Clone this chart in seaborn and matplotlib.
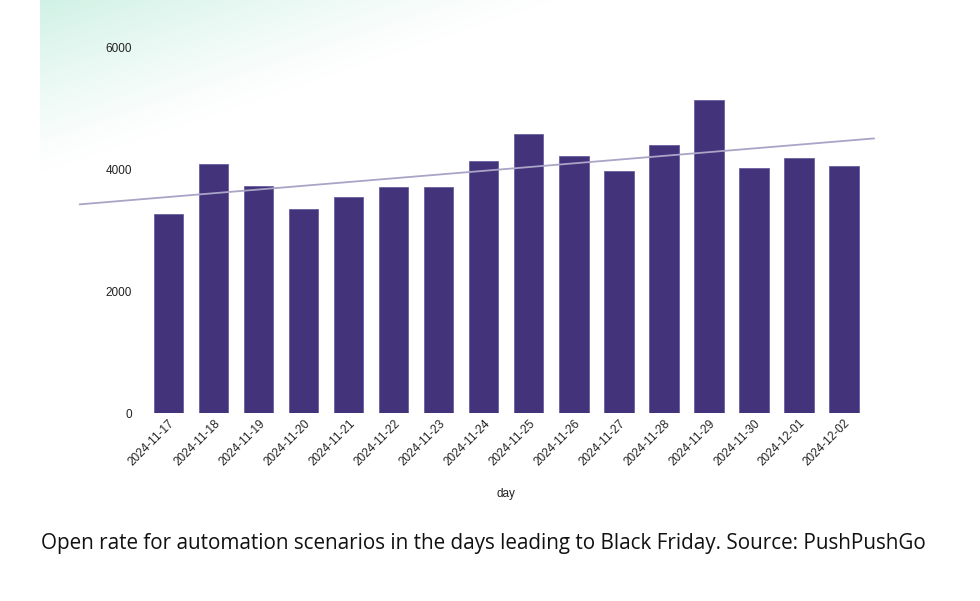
import numpy as np
import pandas as pd
import matplotlib
matplotlib.use("Agg")
import matplotlib.pyplot as plt
import seaborn as sns

# data
days = ["2024-11-17", "2024-11-18", "2024-11-19", "2024-11-20", "2024-11-21",
        "2024-11-22", "2024-11-23", "2024-11-24", "2024-11-25", "2024-11-26",
        "2024-11-27", "2024-11-28", "2024-11-29", "2024-11-30", "2024-12-01",
        "2024-12-02"]
opens = [3262, 4082, 3721, 3344, 3541, 3705, 3705, 4131,
         4574, 4213, 3967, 4393, 5131, 4016, 4180, 4049]
yticks = [0, 2000, 4000, 6000]

df = pd.DataFrame({"day": days, "opens": opens})

sns.set_theme(style="white")
plt.rcParams["font.family"] = ["Liberation Sans", "DejaVu Sans"]

fig = plt.figure(figsize=(9.8, 6.01), dpi=100)

# soft mint glow in the top-left corner
bg = fig.add_axes([0, 0, 1, 1], zorder=0)
W, H = 980, 601
xx, yy = np.meshgrid(np.arange(W), np.arange(H))
t = (xx - 40) / 520.0 + yy / 175.0
t = np.clip(t, 0, 1)
a = (1 - t) ** 1.2 * 0.75
a[:, :40] = 0
img = np.zeros((H, W, 4))
img[..., 0] = 0.76
img[..., 1] = 0.93
img[..., 2] = 0.87
img[..., 3] = a
bg.imshow(img, aspect="auto", extent=(0, W, H, 0))
bg.set_xlim(0, W)
bg.set_ylim(H, 0)
bg.axis("off")

ax = fig.add_axes([146.2 / 980, 188 / 601, 720.3 / 980, 366 / 601], zorder=1)
ax.patch.set_alpha(0)
sns.barplot(data=df, x="day", y="opens", color="#42337a", width=0.65,
            edgecolor="#6a5fa0", linewidth=0.6, saturation=1, ax=ax)

# linear trend over the bars
idx = np.arange(len(opens))
k, b = np.polyfit(idx, opens, 1)
tx = np.array([-1.98, 15.67])
ax.plot(tx, k * tx + b, color="#aaa4c6", lw=1.3, clip_on=False, zorder=3)

ax.set_xlim(-0.5, 15.5)
ax.set_ylim(0, 6000)
ax.set_yticks(yticks)
ax.set_yticklabels([str(v) for v in yticks], fontsize=8.5, color="#222222")
ax.tick_params(axis="y", length=0, pad=10)
ax.tick_params(axis="x", length=0, pad=3)
plt.setp(ax.get_xticklabels(), rotation=45, ha="right", rotation_mode="anchor",
         fontsize=8.5, color="#222222")
ax.set_xlabel("day", fontsize=8.5, color="#222222", labelpad=14)
ax.set_ylabel("")
for s in ax.spines.values():
    s.set_visible(False)

fig.text(0.4934, 1 - 544 / 601,
         "Open rate for automation scenarios in the days leading to Black Friday. Source: PushPushGo",
         ha="center", va="center", fontsize=14.9, family=["Open Sans", "DejaVu Sans"],
         color="#111111")

fig.savefig("out.png", dpi=100)
